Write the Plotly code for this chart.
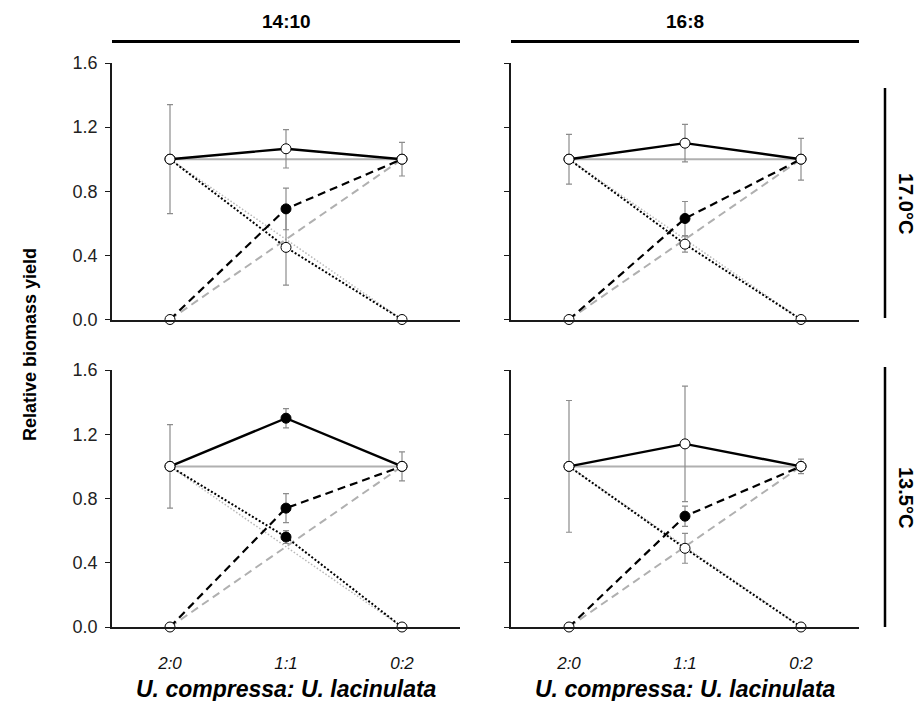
import plotly.graph_objects as go

W, H = 922, 701

ratios = ["2:0", "1:1", "0:2"]
photoperiods = ["14:10", "16:8"]
temperatures = ["17.0°C", "13.5°C"]

# panel order: (14:10, 17.0), (16:8, 17.0), (14:10, 13.5), (16:8, 13.5)
total_mean = [[1.0, 1.065, 1.0], [1.0, 1.10, 1.0], [1.0, 1.30, 1.0], [1.0, 1.14, 1.0]]
total_err = [[0.34, 0.12, 0.105], [0.155, 0.117, 0.13], [0.26, 0.06, 0.09], [0.41, 0.36, 0.045]]
total_sig = [[0, 0, 0], [0, 0, 0], [0, 1, 0], [0, 0, 0]]

comp_mean = [[1.0, 0.45, 0.0], [1.0, 0.47, 0.0], [1.0, 0.56, 0.0], [1.0, 0.49, 0.0]]
comp_err = [[0, 0.235, 0], [0, 0.05, 0], [0, 0.04, 0], [0, 0.093, 0]]
comp_sig = [[0, 0, 0], [0, 0, 0], [0, 1, 0], [0, 0, 0]]

lac_mean = [[0.0, 0.69, 1.0], [0.0, 0.63, 1.0], [0.0, 0.74, 1.0], [0.0, 0.69, 1.0]]
lac_err = [[0, 0.13, 0], [0, 0.106, 0], [0, 0.09, 0], [0, 0.063, 0]]
lac_sig = [[0, 1, 0], [0, 1, 0], [0, 1, 0], [0, 1, 0]]

exp_total = [1.0, 1.0, 1.0]
exp_comp = [1.0, 0.5, 0.0]
exp_lac = [0.0, 0.5, 1.0]

yticks = [0.0, 0.4, 0.8, 1.2, 1.6]
ytick_text = ["0.0", "0.4", "0.8", "1.2", "1.6"]

FONT = "Liberation Sans, Arial, sans-serif"
NARROW = "Liberation Sans Narrow, Arial Narrow, Liberation Sans, Arial, sans-serif"

# pixel layout of panels
x_doms = [(112, 460), (511, 859)]
y_doms = [(63, 319.5), (370, 627)]

fig = go.Figure()

def px_x(p):
    return p / W

def px_y(p):
    return 1 - p / H

xidx = list(range(len(ratios)))

for k in range(4):
    r, c = divmod(k, 2)
    n = k + 1
    xa = "x" if n == 1 else f"x{n}"
    ya = "y" if n == 1 else f"y{n}"
    # expected (gray) lines
    fig.add_trace(go.Scatter(x=xidx, y=exp_total, mode="lines", xaxis=xa, yaxis=ya,
                             line=dict(color="#b0b0b0", width=2), showlegend=False, hoverinfo="skip"))
    fig.add_trace(go.Scatter(x=xidx, y=exp_comp, mode="lines", xaxis=xa, yaxis=ya,
                             line=dict(color="#b8b8b8", width=1.5, dash="1.5px,2px"), showlegend=False, hoverinfo="skip"))
    fig.add_trace(go.Scatter(x=xidx, y=exp_lac, mode="lines", xaxis=xa, yaxis=ya,
                             line=dict(color="#b0b0b0", width=2, dash="8px,5px"), showlegend=False, hoverinfo="skip"))
    # observed lines
    fig.add_trace(go.Scatter(x=xidx, y=total_mean[k], mode="lines", xaxis=xa, yaxis=ya,
                             line=dict(color="black", width=2.4), showlegend=False, hoverinfo="skip"))
    fig.add_trace(go.Scatter(x=xidx, y=comp_mean[k], mode="lines", xaxis=xa, yaxis=ya,
                             line=dict(color="black", width=2, dash="2px,2px"), showlegend=False, hoverinfo="skip"))
    fig.add_trace(go.Scatter(x=xidx, y=lac_mean[k], mode="lines", xaxis=xa, yaxis=ya,
                             line=dict(color="black", width=2.2, dash="8px,5px"), showlegend=False, hoverinfo="skip"))
    # markers with error bars
    for mean, err, sig in [(comp_mean[k], comp_err[k], comp_sig[k]),
                           (lac_mean[k], lac_err[k], lac_sig[k]),
                           (total_mean[k], total_err[k], total_sig[k])]:
        fills = ["black" if s else "white" for s in sig]
        fig.add_trace(go.Scatter(
            x=xidx, y=mean, mode="markers", xaxis=xa, yaxis=ya, cliponaxis=False,
            marker=dict(size=10, color=fills, line=dict(color="black", width=1)),
            error_y=dict(type="data", array=err, visible=True, color="#8c8c8c", thickness=1.2, width=3),
            showlegend=False))

layout = dict(
    template="none",
    width=W, height=H, autosize=False, paper_bgcolor="white", plot_bgcolor="white",
    margin=dict(l=0, r=0, t=0, b=0, pad=0, autoexpand=False), showlegend=False,
    font=dict(family=FONT, color="black"),
)

for k in range(4):
    r, c = divmod(k, 2)
    n = k + 1
    xkey = "xaxis" if n == 1 else f"xaxis{n}"
    ykey = "yaxis" if n == 1 else f"yaxis{n}"
    xd = x_doms[c]
    yd = y_doms[r]
    layout[xkey] = dict(
        domain=[px_x(xd[0]), px_x(xd[1])], range=[-0.5, 2.5], anchor="y" if n == 1 else f"y{n}",
        showline=True, linecolor="#1a1a1a", linewidth=1.5, showgrid=False, zeroline=False,
        tickvals=xidx, ticktext=[f"<i>{t}</i>" for t in ratios], ticks="", showticklabels=(r == 1),
        tickfont=dict(family=NARROW, size=17, color="#111"), ticklabelstandoff=20,
        automargin=False,
    )
    layout[ykey] = dict(
        domain=[px_y(yd[1]), px_y(yd[0])], range=[0, 1.6], anchor="x" if n == 1 else f"x{n}",
        showline=True, linecolor="#1a1a1a", linewidth=1.5, showgrid=False, zeroline=False,
        tickvals=yticks, ticktext=ytick_text, ticks="outside", ticklen=5, tickcolor="#1a1a1a",
        tickwidth=1.2, showticklabels=(c == 0),
        tickfont=dict(family=FONT, size=18, color="#222"), ticklabelstandoff=4,
        automargin=False,
    )

fig.update_layout(**layout)

annotations = []
shapes = []
# column headers
for c, label in enumerate(photoperiods):
    xd = x_doms[c]
    cx = (xd[0] + xd[1]) / 2
    annotations.append(dict(text=f"<b>{label}</b>", x=px_x(cx), y=px_y(22), xref="paper", yref="paper",
                            xanchor="center", yanchor="middle",
                            showarrow=False, font=dict(family=NARROW, size=19, color="black")))
    shapes.append(dict(type="line", xref="paper", yref="paper", x0=px_x(xd[0]), x1=px_x(xd[1]),
                       y0=px_y(41.5), y1=px_y(41.5), line=dict(color="black", width=3)))
    annotations.append(dict(text="<b><i>U. compressa: U. lacinulata</i></b>", x=px_x(cx), y=px_y(689),
                            xref="paper", yref="paper", showarrow=False,
                            xanchor="center", yanchor="middle",
                            font=dict(family=NARROW, size=23, color="black")))
# row labels
row_lines = [(88, 318), (367, 627)]
for r, label in enumerate(temperatures):
    y0, y1 = row_lines[r]
    shapes.append(dict(type="line", xref="paper", yref="paper", x0=px_x(885), x1=px_x(885),
                       y0=px_y(y0), y1=px_y(y1), line=dict(color="black", width=2.5)))
    annotations.append(dict(text=f"<b>{label}</b>", x=px_x(906), y=px_y((y0 + y1) / 2),
                            xref="paper", yref="paper", showarrow=False, textangle=90,
                            xanchor="center", yanchor="middle",
                            font=dict(family=FONT, size=20, color="black")))
# y title
annotations.append(dict(text="<b>Relative biomass yield</b>", x=px_x(30), y=px_y(345), xref="paper",
                        yref="paper", showarrow=False, textangle=-90,
                        xanchor="center", yanchor="middle",
                        font=dict(family=FONT, size=18, color="black")))

fig.update_layout(annotations=annotations, shapes=shapes)
fig.write_html("out.html", config={"responsive": False})
